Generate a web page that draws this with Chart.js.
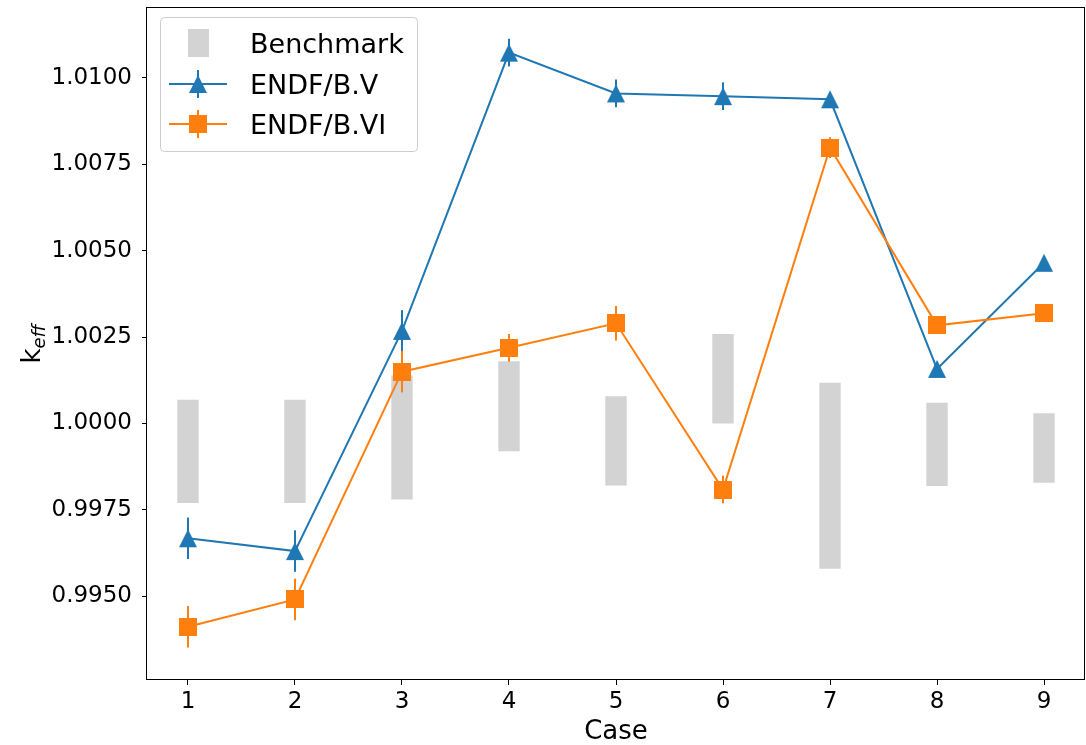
<!DOCTYPE html>
<html><head><meta charset="utf-8">
<script src="https://cdn.jsdelivr.net/npm/chart.js@4/dist/chart.umd.min.js"></script>
<style>html,body{margin:0;padding:0;background:#fff;} #wrap{width:1086px;height:745px;}</style>
</head><body><div id="wrap"><canvas id="c" width="1086" height="745"></canvas></div>
<script>
const cases = [1, 2, 3, 4, 5, 6, 7, 8, 9];
const benchLow  = [0.99770, 0.99770, 0.99780, 0.99920, 0.99821, 1.00000, 0.99580, 0.99819, 0.99829];
const benchHigh = [1.00069, 1.00069, 1.00139, 1.00180, 1.00079, 1.00259, 1.00118, 1.00060, 1.00030];
const endf5    = [0.99668, 0.99631, 1.00268, 1.01073, 1.00955, 1.00947, 1.00938, 1.00158, 1.00465];
const endf5Err = [0.0006, 0.0006, 0.0006, 0.0004, 0.0004, 0.0004, 0.0002, 0.0002, 0.0002];
const endf6    = [0.99412, 0.99491, 1.00150, 1.00219, 1.00290, 0.99809, 1.00798, 1.00284, 1.00319];
const endf6Err = [0.0006, 0.0006, 0.0006, 0.0004, 0.0005, 0.0004, 0.0003, 0.0002, 0.0002];
const yTicks = [0.9950, 0.9975, 1.0000, 1.0025, 1.0050, 1.0075, 1.0100];
const xTicks = [1, 2, 3, 4, 5, 6, 7, 8, 9];
const seriesNames = ['Benchmark', 'ENDF/B.V', 'ENDF/B.VI'];
const xLabel = 'Case';
const yLabelMain = 'k';
const yLabelSub = 'eff';

const BLUE = '#1f77b4', ORANGE = '#ff7f0e', GRAY = '#d3d3d3';
const FONT = '"DejaVu Sans", sans-serif';

function triCanvas(color) {
  const c = document.createElement('canvas'); c.width = 20; c.height = 20;
  const g = c.getContext('2d'); g.fillStyle = color;
  g.beginPath(); g.moveTo(10, 1); g.lineTo(19, 19); g.lineTo(1, 19); g.closePath(); g.fill();
  return c;
}
function sqCanvas(color) {
  const c = document.createElement('canvas'); c.width = 18; c.height = 18;
  const g = c.getContext('2d'); g.fillStyle = color; g.fillRect(0, 0, 18, 18);
  return c;
}
const triM = triCanvas(BLUE), sqM = sqCanvas(ORANGE);

const errPlugin = {
  id: 'errbars',
  afterDatasetDraw(chart, args) {
    const ds = chart.data.datasets[args.index];
    if (!ds.errors) return;
    const ctx = chart.ctx, xs = chart.scales.x, ys = chart.scales.y;
    ctx.save();
    ctx.strokeStyle = ds.borderColor; ctx.lineWidth = 2;
    ds.data.forEach((p, i) => {
      const px = xs.getPixelForValue(p.x);
      ctx.beginPath();
      ctx.moveTo(px, ys.getPixelForValue(p.y - ds.errors[i]));
      ctx.lineTo(px, ys.getPixelForValue(p.y + ds.errors[i]));
      ctx.stroke();
    });
    ctx.restore();
  }
};

const decoPlugin = {
  id: 'deco',
  afterDraw(chart) {
    const ctx = chart.ctx, a = chart.chartArea;
    ctx.save();
    ctx.strokeStyle = '#000'; ctx.lineWidth = 1;
    ctx.strokeRect(Math.round(a.left) - 0.5, Math.round(a.top) + 0.5, Math.round(a.right - a.left), Math.round(a.bottom - a.top) - 1);
    const lx = 160.5, ly = 17.5, lw = 257, lh = 134;
    ctx.beginPath();
    ctx.roundRect(lx, ly, lw, lh, 4);
    ctx.fillStyle = 'rgba(255,255,255,0.8)'; ctx.fill();
    ctx.strokeStyle = '#cccccc'; ctx.stroke();
    const rows = [43, 84, 124];
    const bases = [53, 94, 134];
    ctx.fillStyle = GRAY; ctx.fillRect(188, 29, 21, 28);
    ctx.strokeStyle = BLUE; ctx.lineWidth = 2;
    ctx.beginPath(); ctx.moveTo(169, rows[1]); ctx.lineTo(227, rows[1]); ctx.stroke();
    ctx.beginPath(); ctx.moveTo(198, rows[1] - 14); ctx.lineTo(198, rows[1] + 14); ctx.stroke();
    ctx.drawImage(triM, 198 - 10, rows[1] - 10);
    ctx.strokeStyle = ORANGE;
    ctx.beginPath(); ctx.moveTo(169, rows[2]); ctx.lineTo(227, rows[2]); ctx.stroke();
    ctx.beginPath(); ctx.moveTo(198, rows[2] - 14); ctx.lineTo(198, rows[2] + 14); ctx.stroke();
    ctx.drawImage(sqM, 198 - 9, rows[2] - 9);
    ctx.fillStyle = '#000'; ctx.font = '27px ' + FONT; ctx.textBaseline = 'alphabetic'; ctx.textAlign = 'left';
    seriesNames.forEach((n, i) => ctx.fillText(n, 250, bases[i]));
    ctx.font = '26px ' + FONT; ctx.textAlign = 'center';
    ctx.fillText(xLabel, (a.left + a.right) / 2, 739);
    ctx.translate(40, 344);
    ctx.rotate(-Math.PI / 2);
    ctx.font = '26px ' + FONT;
    const wk = ctx.measureText(yLabelMain).width;
    ctx.font = 'italic 18px ' + FONT;
    const we = ctx.measureText(yLabelSub).width;
    const start = -(wk + we) / 2;
    ctx.textAlign = 'left';
    ctx.font = '26px ' + FONT;
    ctx.fillText(yLabelMain, start, 0);
    ctx.font = 'italic 18px ' + FONT;
    ctx.fillText(yLabelSub, start + wk, 5);
    ctx.restore();
  }
};

function zeroPad(s) { s.paddingTop = 0; s.paddingBottom = 0; s.paddingLeft = 0; s.paddingRight = 0; }

new Chart(document.getElementById('c'), {
  type: 'line',
  data: {
    datasets: [
      {
        type: 'bar', label: seriesNames[0],
        data: cases.map((c, i) => ({ x: c, y: [benchLow[i], benchHigh[i]] })),
        backgroundColor: GRAY, borderWidth: 0,
        categoryPercentage: 1.0, barPercentage: 0.2, order: 3
      },
      {
        label: seriesNames[1],
        data: cases.map((c, i) => ({ x: c, y: endf5[i] })),
        errors: endf5Err,
        borderColor: BLUE, backgroundColor: BLUE, borderWidth: 2,
        pointStyle: triM, pointRadius: 9, tension: 0, order: 2
      },
      {
        label: seriesNames[2],
        data: cases.map((c, i) => ({ x: c, y: endf6[i] })),
        errors: endf6Err,
        borderColor: ORANGE, backgroundColor: ORANGE, borderWidth: 2,
        pointStyle: sqM, pointRadius: 9, tension: 0, order: 1
      }
    ]
  },
  options: {
    responsive: false, animation: false, devicePixelRatio: 1,
    layout: { autoPadding: false, padding: { top: 7, right: 1, left: 0, bottom: 0 } },
    plugins: { legend: { display: false }, tooltip: { enabled: false } },
    scales: {
      x: {
        type: 'linear', min: 0.617, max: 9.383, offset: false,
        grid: { display: true, drawOnChartArea: false, drawTicks: true, tickLength: 5, color: '#000', offset: false },
        border: { display: false },
        afterBuildTicks: s => { s.ticks = xTicks.map(v => ({ value: v })); },
        afterFit: s => { s.height = 65; zeroPad(s); },
        ticks: { color: '#000', font: { family: FONT, size: 23 }, padding: 3, callback: v => String(v), maxRotation: 0, autoSkip: false }
      },
      y: {
        type: 'linear', min: 0.99258, max: 1.01205,
        grid: { display: true, drawOnChartArea: false, drawTicks: true, tickLength: 5, color: '#000' },
        border: { display: false },
        afterBuildTicks: s => { s.ticks = yTicks.map(v => ({ value: v })); },
        afterFit: s => { s.width = 147; zeroPad(s); },
        ticks: { color: '#000', font: { family: FONT, size: 23 }, padding: 10, callback: v => Number(v).toFixed(4), autoSkip: false }
      }
    }
  },
  plugins: [errPlugin, decoPlugin]
});
</script>
</body></html>
